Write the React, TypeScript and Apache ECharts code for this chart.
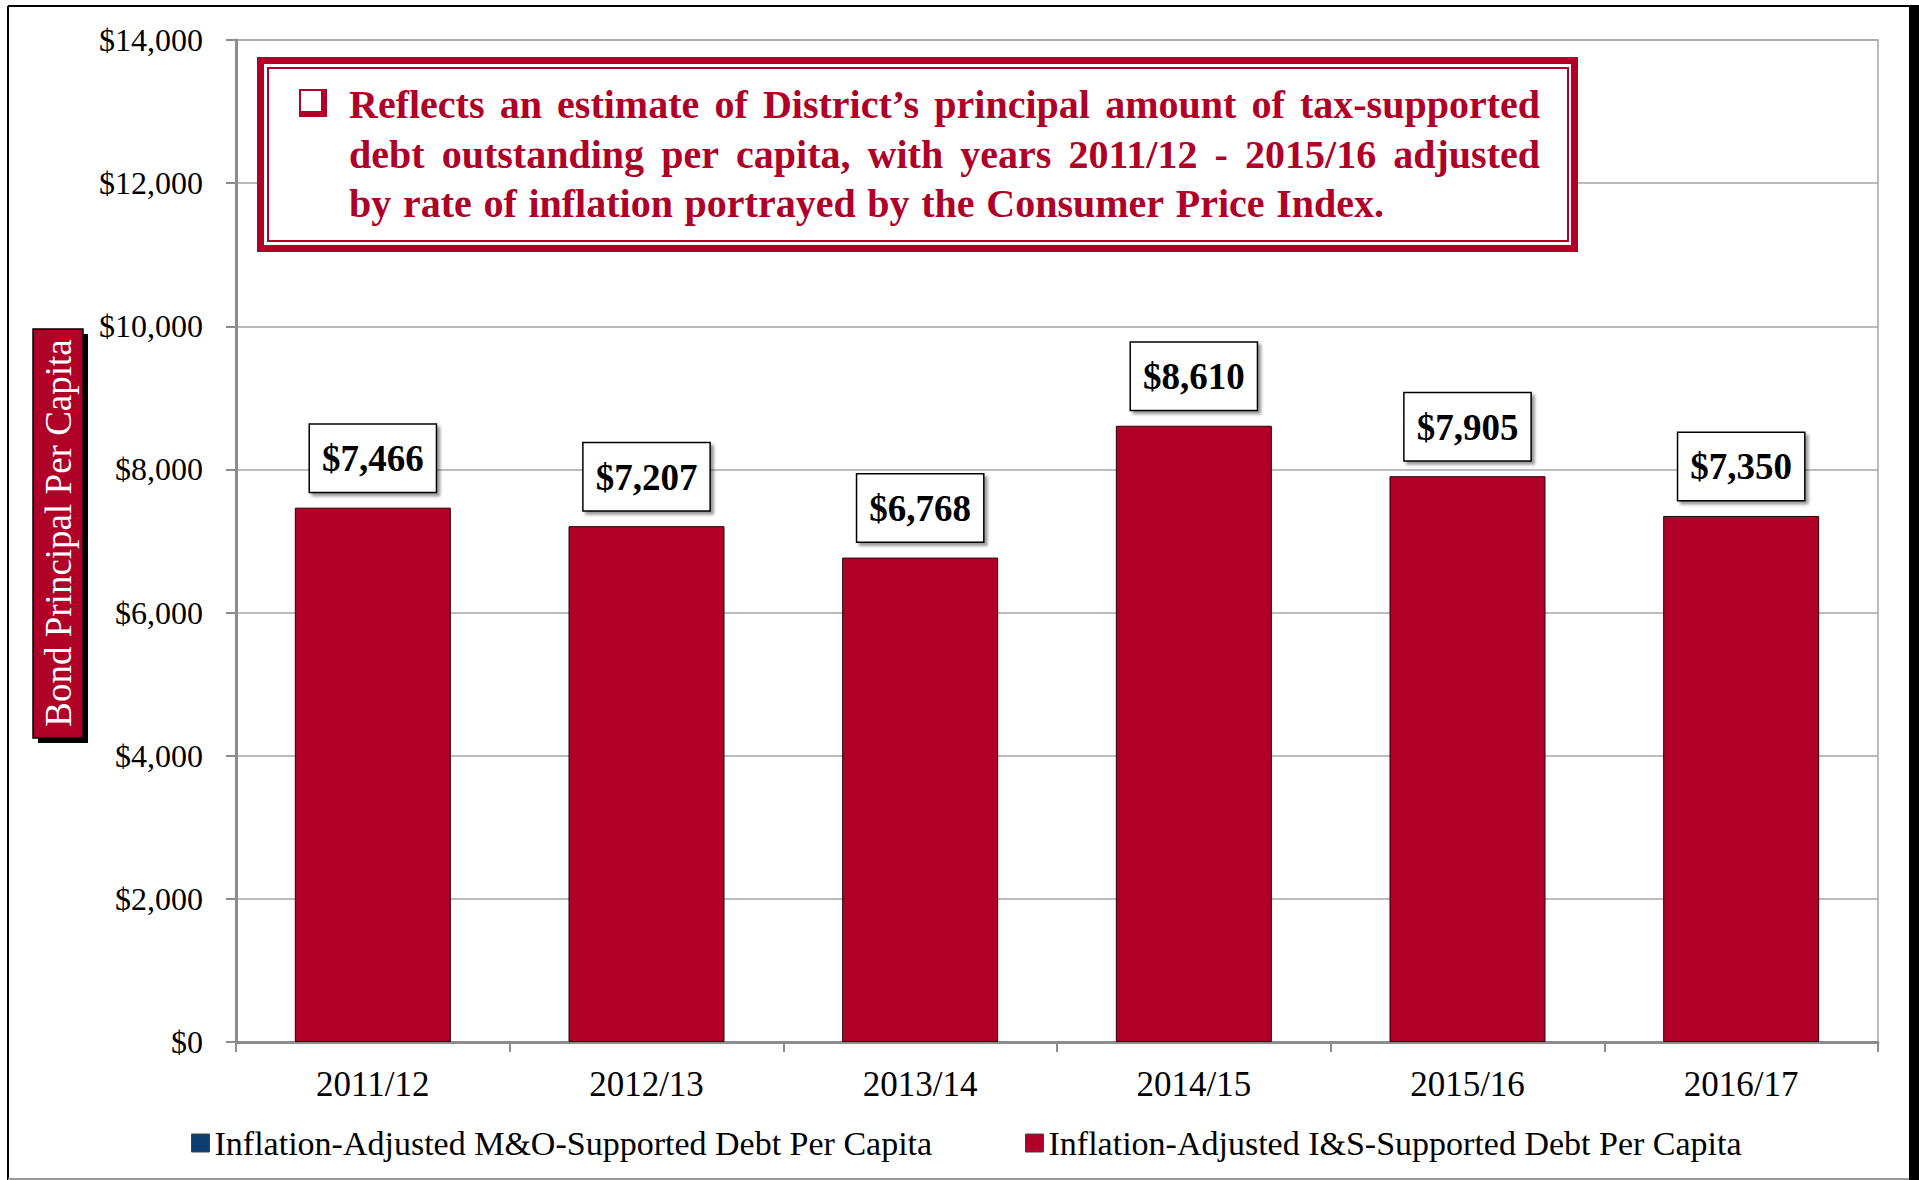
import React, { useEffect, useRef } from 'react';
import * as echarts from 'echarts';

const categories = ['2011/12', '2012/13', '2013/14', '2014/15', '2015/16', '2016/17'];
const isDebtPerCapita = [7466, 7207, 6768, 8610, 7905, 7350];
const moDebtPerCapita = [0, 0, 0, 0, 0, 0];
const seriesNames = [
  'Inflation-Adjusted M&O-Supported Debt Per Capita',
  'Inflation-Adjusted I&S-Supported Debt Per Capita',
];
const yMin = 0;
const yMax = 14000;
const yInterval = 2000;
const yAxisTitle = 'Bond Principal Per Capita';
const noteLines = [
  'Reflects an estimate of District\u2019s principal amount of tax-supported',
  'debt outstanding per capita, with years 2011/12 - 2015/16 adjusted',
  'by rate of inflation portrayed by the Consumer Price Index.',
];

const RED = '#B00028';
const NAVY = '#0B3D6F';
const SERIF = '"Liberation Serif", "DejaVu Serif", serif';

function money(v: number) {
  return '$' + v.toLocaleString('en-US');
}

function buildGraphics() {
  const els: any[] = [];
  // outer frame
  els.push({ type: 'line', z: 120, shape: { x1: 8, y1: 6, x2: 8, y2: 1180 }, style: { stroke: '#000', lineWidth: 2 } });
  els.push({ type: 'line', z: 120, shape: { x1: 8, y1: 6, x2: 1910, y2: 6 }, style: { stroke: '#000', lineWidth: 2 } });
  els.push({ type: 'line', z: 120, shape: { x1: 8, y1: 1179, x2: 1910, y2: 1179 }, style: { stroke: '#999', lineWidth: 2 } });
  els.push({ type: 'rect', z: 120, shape: { x: 1909, y: 5, width: 10, height: 1175 }, style: { fill: '#000' } });

  // annotation box
  els.push({ type: 'rect', z: 100, shape: { x: 260.5, y: 60.5, width: 1314, height: 188 }, style: { fill: '#fff', stroke: RED, lineWidth: 7 } });
  els.push({ type: 'rect', z: 101, shape: { x: 268, y: 68, width: 1300, height: 173 }, style: { fill: 'none', stroke: RED, lineWidth: 2 } });
  // checkbox bullet
  els.push({ type: 'rect', z: 102, shape: { x: 299, y: 89, width: 28, height: 28 }, style: { fill: RED } });
  els.push({ type: 'rect', z: 103, shape: { x: 301, y: 91, width: 20, height: 20 }, style: { fill: '#fff' } });

  // justified note text
  const canvas = document.createElement('canvas');
  const ctx = canvas.getContext('2d')!;
  const noteFont = 'bold 40px ' + SERIF;
  ctx.font = noteFont;
  const left = 349;
  const rights = [1540, 1540, 1384];
  const ys = [104, 154, 203];
  noteLines.forEach((line, i) => {
    const words = line.split(' ');
    const widths = words.map((w) => ctx.measureText(w).width);
    const sum = widths.reduce((a, b) => a + b, 0);
    const gap = (rights[i] - left - sum) / (words.length - 1);
    let x = left;
    words.forEach((w, j) => {
      els.push({
        type: 'text',
        z: 105,
        x,
        y: ys[i],
        style: {
          text: w,
          font: noteFont,
          fill: RED,
          align: 'left',
          verticalAlign: 'middle',
          textAlign: 'left',
          textVerticalAlign: 'middle',
        },
      });
      x += widths[j] + gap;
    });
  });

  // y-axis title box
  els.push({ type: 'rect', z: 100, shape: { x: 38, y: 334, width: 50, height: 409 }, style: { fill: '#000' } });
  els.push({ type: 'rect', z: 101, shape: { x: 33, y: 329, width: 50, height: 409 }, style: { fill: RED, stroke: '#000', lineWidth: 1.5 } });
  els.push({
    type: 'text',
    z: 102,
    x: 58,
    y: 533,
    rotation: Math.PI / 2,
    style: {
      text: yAxisTitle,
      font: '37px ' + SERIF,
      fill: '#fff',
      align: 'center',
      verticalAlign: 'middle',
      textAlign: 'center',
      textVerticalAlign: 'middle',
    },
  });
  return els;
}

export default function App() {
  const ref = useRef<HTMLDivElement>(null);
  useEffect(() => {
    if (!ref.current) return;
    const chart = echarts.init(ref.current, undefined, { renderer: 'svg' });
    const legendText = { fontSize: 34, color: '#000', fontFamily: SERIF };
    chart.setOption({
      animation: false,
      backgroundColor: '#fff',
      grid: {
        left: 236,
        right: 41,
        top: 40,
        bottom: 138,
        show: true,
        borderColor: '#a6a6a6',
        borderWidth: 1.5,
        backgroundColor: 'transparent',
      },
      legend: [
        {
          data: [seriesNames[0]],
          left: 186,
          top: 1121,
          icon: 'rect',
          itemWidth: 18,
          itemHeight: 18,
          itemGap: 9,
          textStyle: legendText,
          itemStyle: { borderColor: '#444', borderWidth: 1 },
        },
        {
          data: [seriesNames[1]],
          left: 1020,
          top: 1121,
          icon: 'rect',
          itemWidth: 18,
          itemHeight: 18,
          textStyle: legendText,
          itemStyle: { borderColor: '#444', borderWidth: 1 },
        },
      ],
      xAxis: {
        type: 'category',
        data: categories,
        boundaryGap: true,
        axisLine: { show: true, lineStyle: { color: '#8c8c8c', width: 3 } },
        axisTick: { show: true, length: 10, inside: false, lineStyle: { color: '#8c8c8c', width: 2 } },
        axisLabel: { fontSize: 35, color: '#000', fontFamily: SERIF, margin: 25 },
        splitLine: { show: false },
      },
      yAxis: {
        type: 'value',
        min: yMin,
        max: yMax,
        interval: yInterval,
        axisLine: { show: true, lineStyle: { color: '#8c8c8c', width: 3 } },
        axisTick: { show: true, length: 10, inside: false, lineStyle: { color: '#8c8c8c', width: 2 } },
        axisLabel: { fontSize: 32, color: '#000', fontFamily: SERIF, margin: 33, formatter: (v: number) => money(v) },
        splitLine: { show: true, lineStyle: { color: '#a6a6a6', width: 1.5 } },
      },
      series: [
        {
          name: seriesNames[0],
          type: 'bar',
          stack: 'debt',
          data: moDebtPerCapita,
          barWidth: '57%',
          itemStyle: { color: NAVY, borderWidth: 0 },
        },
        {
          name: seriesNames[1],
          type: 'bar',
          stack: 'debt',
          data: isDebtPerCapita,
          barWidth: '57%',
          itemStyle: { color: RED, borderColor: '#2a0008', borderWidth: 1 },
          label: {
            show: true,
            position: 'top',
            distance: 16,
            formatter: (p: any) => money(p.value),
            fontSize: 37,
            fontWeight: 'bold',
            fontFamily: SERIF,
            color: '#000',
            lineHeight: 40,
            backgroundColor: '#fff',
            borderColor: '#000',
            borderWidth: 1.5,
            padding: [14, 12, 13, 12],
            shadowColor: 'rgba(0,0,0,0.4)',
            shadowBlur: 3,
            shadowOffsetX: 3,
            shadowOffsetY: 3,
          },
        },
      ],
      graphic: { elements: buildGraphics() },
    });
    return () => chart.dispose();
  }, []);
  return (
    <div
      ref={ref}
      style={{ position: 'fixed', left: 0, top: 0, width: 1919, height: 1180, background: '#fff' }}
    />
  );
}
